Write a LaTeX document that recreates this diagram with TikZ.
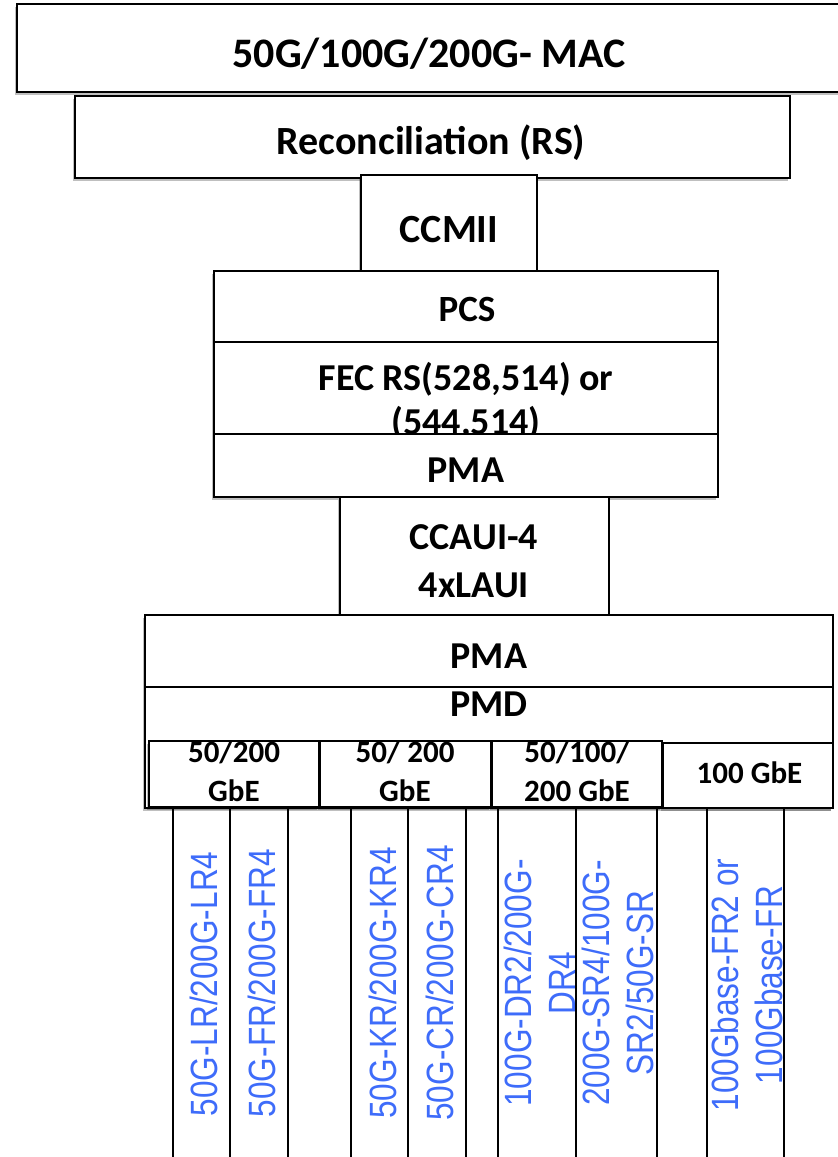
\documentclass[tikz,border=0pt]{standalone}
\usepackage{fontspec}
\setmainfont{Carlito}
\newfontfamily\specfont[FakeStretch=0.83]{Liberation Sans}
\usetikzlibrary{shadows}
\definecolor{specblue}{RGB}{62,108,250}
\tikzset{
  box/.style={draw=black, line width=1.8pt, fill=white, inner sep=0pt,
    drop shadow={shadow xshift=-2pt, shadow yshift=-3pt, fill=black, opacity=0.25}},
  lbl/.style={inner sep=0pt, align=center},
  spec/.style={inner sep=0pt, align=center, rotate=90, text=specblue,
    font=\specfont\fontsize{38}{44}\selectfont},
  wire/.style={draw=black, line width=1.8pt}
}
\newcommand{\bsz}[2]{\bfseries\fontsize{#1}{#2}\selectfont}
\begin{document}
\begin{tikzpicture}[x=1pt,y=-1pt]
\useasboundingbox (0,0) rectangle (838,1157);
% vertical lines below PMD
\foreach \i/\x in {1/173,2/230,3/288,4/351,5/408,6/466,7/498,8/576,9/657,10/707,11/784}{
  \coordinate (t\i) at (\x,806);
  \coordinate (b\i) at (\x,1162);
  \draw[wire] (t\i) -- (b\i);
}
% boxes
\node[box, minimum width=833pt, minimum height=88pt] (mac) at (433.5,48) {};
\node[lbl, anchor=base, font=\bsz{42}{50}] (mact) at (429,67) {50G/100G/200G- MAC};
\node[box, minimum width=715pt, minimum height=82pt] (rs) at (432.5,137) {};
\node[lbl, anchor=base, font=\bsz{40}{48}] (rst) at (431,154) {Reconciliation (RS)};
\node[box, minimum width=176pt, minimum height=96pt] (ccmii) at (449,223) {};
\node[lbl, anchor=base, font=\bsz{40}{48}] (ccmiit) at (449,242) {CCMII};
\node[box, minimum width=504pt, minimum height=71pt] (pcs) at (466,306.5) {};
\node[lbl, anchor=base, font=\bsz{37}{44}] (pcst) at (467,321.5) {PCS};
\node[box, minimum width=504pt, minimum height=92pt] (fec) at (466,388) {};
\node[lbl, font=\bsz{38}{44}] (fect) at (466,401) {FEC RS(528,514) or\\(544,514)};
\node[box, minimum width=504pt, minimum height=63pt] (pma) at (466,465.5) {};
\node[lbl, anchor=base, font=\bsz{38}{44}] (pmat) at (466,482) {PMA};
\node[box, minimum width=269pt, minimum height=118pt] (ccaui) at (474.5,556) {};
\node[lbl, font=\bsz{38}{48}] (ccauit) at (474,561) {CCAUI-4\\4xLAUI};
\node[box, minimum width=688pt, minimum height=72pt] (pmab) at (489,651) {};
\node[lbl, anchor=base, font=\bsz{38}{44}] (pmabt) at (489,668) {PMA};
\node[box, minimum width=688pt, minimum height=121pt] (pmd) at (489,747.5) {};
\node[lbl, anchor=base, font=\bsz{38}{44}] (pmdt) at (489,716) {PMD};
\node[box, minimum width=170pt, minimum height=66pt] (s1) at (234,774) {};
\node[lbl, font=\bsz{31}{39}] (s1t) at (234,771) {50/200\\GbE};
\node[box, minimum width=171pt, minimum height=66pt] (s2) at (405.5,774) {};
\node[lbl, font=\bsz{31}{39}] (s2t) at (405,771) {50/ 200\\GbE};
\node[box, minimum width=170pt, minimum height=66pt] (s3) at (577,774) {};
\node[lbl, font=\bsz{31}{39}] (s3t) at (577,771) {50/100/\\200 GbE};
\node[box, minimum width=170pt, minimum height=65pt] (s4) at (748,775.5) {};
\node[lbl, anchor=base, font=\bsz{31}{39}] (s4t) at (749.5,783) {100 GbE};
% PMD names
\node[spec] (lr) at (204,984) {50G-LR/200G-LR4};
\node[spec] (fr) at (261.5,983) {50G-FR/200G-FR4};
\node[spec] (kr) at (383,983) {50G-KR/200G-KR4};
\node[spec] (cr) at (440,983) {50G-CR/200G-CR4};
\node[spec] (dr) at (539.5,983) {100G-DR2/200G-\\DR4};
\node[spec] (sr) at (618,983) {200G-SR4/100G-\\SR2/50G-SR};
\node[spec] (fr2) at (746.5,985) {100Gbase-FR2 or\\100Gbase-FR};
\end{tikzpicture}
\end{document}
